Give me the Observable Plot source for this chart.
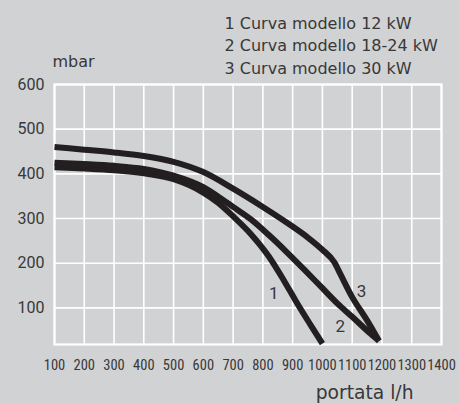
<!DOCTYPE html>
<html>
<head>
<meta charset="utf-8">
<script src="https://cdn.jsdelivr.net/npm/d3@7"></script>
<script src="https://cdn.jsdelivr.net/npm/@observablehq/plot@0.6"></script>
<style>
  html, body { margin: 0; padding: 0; background: #d1d2d4; }
  #chart svg { display: block; }
</style>
</head>
<body>
<div id="chart"></div>
<script>
// Flow rate (l/h) and residual head (mbar)
const curve1 = [[100,415],[200,412],[300,408],[400,401],[500,388],[600,358],[650,335],[700,305],[760,265],[820,215],[870,162],[910,116],[960,62],[1000,20]];
const curve2 = [[100,425],[200,422],[300,418],[400,411],[500,396],[600,370],[650,349],[700,326],[760,298],[820,263],[880,225],[940,185],[1000,144],[1050,110],[1100,80],[1160,43],[1190,26]];
const curve3 = [[100,460],[200,454],[300,448],[400,440],[500,427],[600,404],[700,367],[800,326],[900,282],[950,258],[1000,230],[1040,202],[1060,176],[1100,124],[1150,72],[1190,26]];
const seriesNames = ["1", "2", "3"];
const legendLines = ["1 Curva modello 12 kW", "2 Curva modello 18-24 kW", "3 Curva modello 30 kW"];
const xTicks = [100,200,300,400,500,600,700,800,900,1000,1100,1200,1300,1400];
const yTicks = [100,200,300,400,500,600];
const curveLabels = [{label:"1", x:837, y:132}, {label:"2", x:1060, y:59}, {label:"3", x:1131, y:136}];
const yLabel = "mbar";
const xLabel = "portata l/h";

const rows = [curve1, curve2, curve3].flatMap((c, i) => c.map(([x, y]) => ({series: seriesNames[i], x, y})));

const ink = "#383838";
const wide = "'DejaVu Sans', sans-serif";
const plot = Plot.plot({
  width: 459,
  height: 403,
  marginLeft: 54,
  marginRight: 18,
  marginTop: 84,
  marginBottom: 59,
  style: {background: "#d1d2d4", fontFamily: "Roboto, sans-serif", color: ink},
  x: {domain: [100, 1400]},
  y: {domain: [18, 600]},
  marks: [
    Plot.gridX(xTicks, {stroke: "white", strokeOpacity: 1, strokeWidth: 1.6}),
    Plot.gridY(yTicks, {stroke: "white", strokeOpacity: 1, strokeWidth: 1.6}),
    Plot.frame({stroke: "white", strokeWidth: 2.2}),
    Plot.axisX(xTicks, {tickSize: 0, tickPadding: 15, tickFormat: "d", fontSize: 14.5, fontFamily: "'Liberation Sans Narrow', 'Roboto Condensed', Roboto, sans-serif", fill: ink, label: null}),
    Plot.axisY(yTicks, {tickSize: 0, tickPadding: 10, tickFormat: "d", fontSize: 16, fill: ink, label: null}),
    Plot.line(rows, {x: "x", y: "y", z: "series", stroke: "#231f20", strokeWidth: 6, curve: "monotone-x", strokeLinecap: "butt", strokeLinejoin: "round"}),
    Plot.text(curveLabels, {x: "x", y: "y", text: "label", fontSize: 17, fill: ink}),
    Plot.text([legendLines.join("\n")], {frameAnchor: "top-left", dx: 170, dy: -10.7, lineAnchor: "bottom", lineHeight: 1.4, textAnchor: "start", fontSize: 16, fontFamily: wide, fill: ink}),
    Plot.text([yLabel], {frameAnchor: "top-left", dx: -2, dy: -17.3, lineAnchor: "bottom", textAnchor: "start", fontSize: 16, fontFamily: wide, fill: ink}),
    Plot.text([xLabel], {frameAnchor: "bottom-right", dx: -28, dy: 54, lineAnchor: "bottom", textAnchor: "end", fontSize: 18.7, fontFamily: wide, fill: ink})
  ]
});
document.getElementById("chart").appendChild(plot);
</script>
</body>
</html>
